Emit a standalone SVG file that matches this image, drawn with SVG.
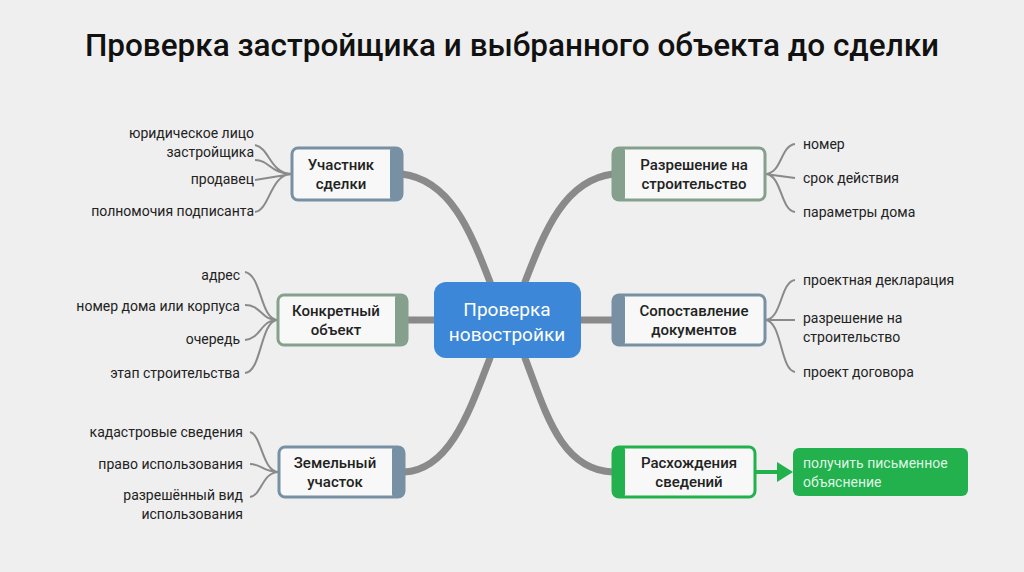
<svg xmlns="http://www.w3.org/2000/svg" width="1024" height="572" viewBox="0 0 1024 572">
<style>
text{font-family:Roboto,"Liberation Sans",sans-serif;fill:#222}
.t{font-size:31.5px;font-weight:500;fill:#111}
.n{font-size:15px;font-weight:500;text-anchor:middle}
.l{font-size:14px}
.r{text-anchor:end}
.box{fill:#f7f8f7;stroke-width:3}
.sl{stroke:#7790a3}.gg{stroke:#86a08e}
.tr{fill:none;stroke:#8a8a8a;stroke-width:7;stroke-linecap:round}
.lf{fill:none;stroke:#8a8a8a;stroke-width:2}
</style>
<rect width="1024" height="572" fill="#efefef"/>
<text class="t" x="512" y="56" text-anchor="middle">Проверка застройщика и выбранного объекта до сделки</text>
<g id="connectors">
<path class="tr" d="M402 174 C450 180 470 230 490 282"/>
<path class="tr" d="M613 174 C565 180 545 230 525 282"/>
<path class="tr" d="M407 320 L434 320"/>
<path class="tr" d="M581 320 L613 320"/>
<path class="tr" d="M404 472 C450 470 470 410 490 358"/>
<path class="tr" d="M613 472 C560 470 545 410 525 358"/>
<path class="lf" d="M292 174 C270 174 270 148 255 145 M292 174 C270 174 270 160 255 160 M292 174 L255 180 M292 174 C270 174 270 210 255 212"/>
<path class="lf" d="M278 320 C260 320 262 275 245 272 M278 320 C260 320 262 305 245 305 M278 320 C260 320 262 338 245 340 M278 320 C260 320 262 372 245 373"/>
<path class="lf" d="M279 472 C262 472 262 435 250 432 M279 472 C262 472 262 464 250 464 M279 472 C262 472 262 495 250 497"/>
<path class="lf" d="M765 174 C782 174 780 146 795 144 M765 174 L795 178 M765 174 C782 174 780 210 795 212"/>
<path class="lf" d="M765 320 C782 320 780 282 795 280 M765 320 C782 320 780 320 795 320 M765 320 C782 320 780 370 795 372"/>
<path d="M755 472 L780 472" stroke="#22b14c" stroke-width="4"/>
<path d="M777 462 L793 472 L777 482 Z" fill="#22b14c"/>
</g>
<g id="center"><rect x="434" y="282" width="147" height="76" rx="12" fill="#3d87d8"/>
<text class="n" x="507" y="316" style="font-size:19px;font-weight:400;fill:#fff">Проверка</text>
<text class="n" x="507" y="341" style="font-size:19px;font-weight:400;fill:#fff">новостройки</text></g>
<g id="n1"><rect class="box sl" x="292" y="148" width="110" height="52" rx="6"/><rect x="390" y="148" width="12" height="52" rx="3" fill="#7790a3"/>
<text class="n" x="341" y="170">Участник</text><text class="n" x="341" y="189">сделки</text></g>
<g id="n2"><rect class="box gg" x="278" y="295" width="129" height="50" rx="6"/><rect x="395" y="295" width="12" height="50" rx="3" fill="#86a08e"/>
<text class="n" x="336" y="316">Конкретный</text><text class="n" x="336" y="335">объект</text></g>
<g id="n3"><rect class="box sl" x="279" y="447" width="125" height="50" rx="6"/><rect x="392" y="447" width="12" height="50" rx="3" fill="#7790a3"/>
<text class="n" x="335" y="468">Земельный</text><text class="n" x="335" y="487">участок</text></g>
<g id="n4"><rect class="box gg" x="613" y="148" width="152" height="52" rx="6"/><rect x="613" y="148" width="12" height="52" rx="3" fill="#86a08e"/>
<text class="n" x="694" y="170">Разрешение на</text><text class="n" x="694" y="189">строительство</text></g>
<g id="n5"><rect class="box sl" x="613" y="295" width="152" height="50" rx="6"/><rect x="613" y="295" width="12" height="50" rx="3" fill="#7790a3"/>
<text class="n" x="694" y="316">Сопоставление</text><text class="n" x="694" y="335">документов</text></g>
<g id="n6"><rect class="box" x="613" y="447" width="142" height="50" rx="6" stroke="#22b14c"/><rect x="613" y="447" width="12" height="50" rx="3" fill="#22b14c"/>
<text class="n" x="689" y="468">Расхождения</text><text class="n" x="689" y="487">сведений</text></g>
<g id="n7"><rect x="793" y="448" width="175" height="48" rx="6" fill="#22b14c"/>
<text class="l" x="803" y="468" style="fill:#dff5e4">получить письменное</text><text class="l" x="803" y="487" style="fill:#dff5e4">объяснение</text></g>
<g id="leaves">
<text class="l r" x="254" y="138">юридическое лицо</text><text class="l r" x="254" y="157">застройщика</text>
<text class="l r" x="254" y="184">продавец</text>
<text class="l r" x="254" y="216">полномочия подписанта</text>
<text class="l r" x="240" y="280">адрес</text>
<text class="l r" x="240" y="311">номер дома или корпуса</text>
<text class="l r" x="240" y="344">очередь</text>
<text class="l r" x="240" y="378">этап строительства</text>
<text class="l r" x="243" y="437">кадастровые сведения</text>
<text class="l r" x="243" y="469">право использования</text>
<text class="l r" x="243" y="500">разрешённый вид</text><text class="l r" x="243" y="519">использования</text>
<text class="l" x="803" y="149">номер</text>
<text class="l" x="803" y="183">срок действия</text>
<text class="l" x="803" y="217">параметры дома</text>
<text class="l" x="803" y="285">проектная декларация</text>
<text class="l" x="803" y="323">разрешение на</text><text class="l" x="803" y="342">строительство</text>
<text class="l" x="803" y="377">проект договора</text>
</g>
</svg>
